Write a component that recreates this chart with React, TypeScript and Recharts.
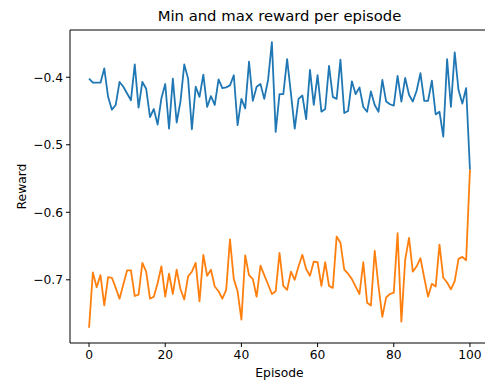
import { LineChart, Line, XAxis, YAxis, Label, ReferenceLine } from 'recharts';

const episodes = Array.from({ length: 101 }, (_, i) => i);

const maxReward = [
  -0.402, -0.408, -0.408, -0.408, -0.387, -0.429, -0.448, -0.441, -0.407, -0.414,
  -0.424, -0.434, -0.381, -0.445, -0.407, -0.417, -0.459, -0.447, -0.47, -0.431,
  -0.41, -0.476, -0.402, -0.467, -0.436, -0.381, -0.402, -0.477, -0.414, -0.429,
  -0.396, -0.444, -0.428, -0.441, -0.403, -0.416, -0.415, -0.412, -0.397, -0.471,
  -0.432, -0.446, -0.377, -0.435, -0.414, -0.41, -0.432, -0.404, -0.348, -0.481,
  -0.425, -0.425, -0.373, -0.424, -0.476, -0.432, -0.427, -0.462, -0.389, -0.441,
  -0.397, -0.451, -0.447, -0.383, -0.429, -0.432, -0.374, -0.453, -0.45, -0.406,
  -0.425, -0.415, -0.444, -0.451, -0.421, -0.441, -0.451, -0.404, -0.436, -0.44,
  -0.442, -0.398, -0.436, -0.401, -0.426, -0.436, -0.42, -0.394, -0.435, -0.435,
  -0.405, -0.455, -0.451, -0.488, -0.373, -0.444, -0.363, -0.419, -0.439, -0.416,
  -0.537,
];

const minReward = [
  -0.771, -0.689, -0.711, -0.693, -0.738, -0.696, -0.697, -0.712, -0.728, -0.707,
  -0.686, -0.686, -0.724, -0.722, -0.675, -0.688, -0.728, -0.725, -0.705, -0.68,
  -0.725, -0.691, -0.721, -0.685, -0.714, -0.729, -0.695, -0.688, -0.675, -0.732,
  -0.663, -0.694, -0.685, -0.71, -0.717, -0.728, -0.715, -0.64, -0.699, -0.717,
  -0.759, -0.664, -0.693, -0.699, -0.725, -0.679, -0.693, -0.707, -0.721, -0.717,
  -0.66, -0.709, -0.715, -0.688, -0.7, -0.68, -0.663, -0.684, -0.694, -0.673,
  -0.674, -0.709, -0.674, -0.709, -0.712, -0.636, -0.645, -0.685, -0.691, -0.699,
  -0.71, -0.721, -0.674, -0.734, -0.738, -0.657, -0.71, -0.755, -0.726, -0.721,
  -0.719, -0.631, -0.762, -0.67, -0.638, -0.688, -0.68, -0.668, -0.697, -0.725,
  -0.706, -0.71, -0.648, -0.697, -0.704, -0.714, -0.702, -0.669, -0.666, -0.671,
  -0.537,
];

const xTicks = [0, 20, 40, 60, 80, 100];
const yTicks = [-0.7, -0.6, -0.5, -0.4];
const yDomain: [number, number] = [-0.7936, -0.33];

const data = episodes.map((ep, i) => ({ episode: ep, max: maxReward[i], min: minReward[i] }));

const FONT = '"DejaVu Sans", sans-serif';
const tickStyle = { fontSize: 12.3, fill: '#000', fontFamily: FONT };
const fmt = (v: number) => (v < 0 ? '\u2212' : '') + Math.abs(v).toFixed(1);

export default function App() {
  return (
    <div
      style={{
        position: 'absolute',
        left: 0,
        top: 0,
        width: 485,
        height: 381,
        overflow: 'hidden',
        background: '#fff',
        fontFamily: FONT,
      }}
    >
      <div
        style={{
          position: 'absolute',
          left: 70,
          width: 419,
          top: 6,
          lineHeight: '20px',
          fontSize: 14.8,
          textAlign: 'center',
          color: '#000',
        }}
      >
        Min and max reward per episode
      </div>
      <LineChart
        width={500}
        height={381}
        data={data}
        margin={{ top: 30, right: 11, bottom: 0, left: 0 }}
      >
        <XAxis
          dataKey="episode"
          type="number"
          domain={[-5, 105]}
          ticks={xTicks}
          tick={tickStyle}
          tickSize={4}
          tickMargin={3}
          height={38}
          axisLine={{ stroke: '#000' }}
          tickLine={{ stroke: '#000' }}
        >
          <Label
            content={({ viewBox }: any) => (
              <text
                x={viewBox.x + viewBox.width / 2}
                y={viewBox.y + 29.5}
                textAnchor="middle"
                dominantBaseline="central"
                fontSize={12.3}
                fontFamily={FONT}
                fill="#000"
              >
                Episode
              </text>
            )}
          />
        </XAxis>
        <YAxis
          type="number"
          domain={yDomain}
          ticks={yTicks}
          tickFormatter={fmt}
          tick={tickStyle}
          tickSize={4}
          tickMargin={3}
          width={70}
          axisLine={{ stroke: '#000' }}
          tickLine={{ stroke: '#000' }}
        >
          <Label
            content={({ viewBox }: any) => {
              const x = 21.7;
              const y = viewBox.y + viewBox.height / 2;
              return (
                <text
                  x={x}
                  y={y}
                  transform={`rotate(-90, ${x}, ${y})`}
                  textAnchor="middle"
                  dominantBaseline="central"
                  fontSize={12.3}
                  fontFamily={FONT}
                  fill="#000"
                >
                  Reward
                </text>
              );
            }}
          />
        </YAxis>
        {/* top and right spines */}
        <ReferenceLine y={yDomain[1]} stroke="#000" />
        <ReferenceLine x={105} stroke="#000" />
        <Line
          type="linear"
          dataKey="max"
          stroke="#1f77b4"
          strokeWidth={1.8}
          strokeLinejoin="round"
          dot={false}
          isAnimationActive={false}
        />
        <Line
          type="linear"
          dataKey="min"
          stroke="#ff7f0e"
          strokeWidth={1.8}
          strokeLinejoin="round"
          dot={false}
          isAnimationActive={false}
        />
      </LineChart>
    </div>
  );
}
